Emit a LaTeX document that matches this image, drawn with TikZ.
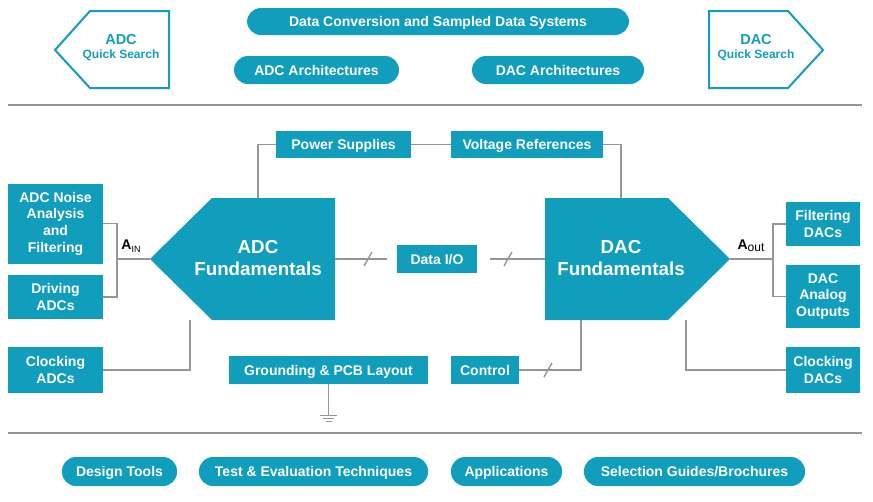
\documentclass[tikz,border=0pt]{standalone}
\usepackage{fontspec}
\setmainfont{Liberation Sans}
\usetikzlibrary{calc}
\definecolor{adiblue}{RGB}{16,158,188}
\definecolor{wiregray}{RGB}{150,150,150}
\tikzset{
  tile/.style={fill=adiblue, text=white, font=\bfseries\fontsize{14}{16.7}\selectfont, inner sep=0pt},
  box/.style={tile, text height=10pt, text depth=0pt},
  stack/.style={tile, align=center},
  pill/.style={box, rounded corners=14pt, minimum height=28pt},
  wire/.style={draw=wiregray, line width=1.4pt},
  bigbox/.style={fill=adiblue},
  bigtext/.style={text=white, font=\bfseries\fontsize{18.8}{22}\selectfont, align=center},
  search/.style={draw=adiblue, line width=2pt, fill=white},
  searchtext/.style={text=adiblue, align=center, font=\bfseries\fontsize{12}{14}\selectfont}
}
\newcommand{\busmark}[1]{\draw[wire] ($(#1)+(-4,7)$) -- ($(#1)+(4,-7)$);}
\begin{document}
\begin{tikzpicture}[x=1pt, y=-1pt]
\useasboundingbox (0,0) rectangle (873,501);

\draw[search] (55,50) -- (90,11) -- (169,11) -- (169,88) -- (90,88) -- cycle;
\node[searchtext] (adcqs) at (121,48) {{\fontsize{14.5}{14}\selectfont ADC}\\Quick Search};
\draw[search] (709,11) -- (788,11) -- (823,50) -- (788,88) -- (709,88) -- cycle;
\node[searchtext] (dacqs) at (756,48) {{\fontsize{14.5}{14}\selectfont DAC}\\Quick Search};

\node[pill, minimum width=382pt, minimum height=27pt] (dcsds) at (438,21.5) {Data Conversion and Sampled Data Systems};
\node[pill, minimum width=165pt] (adcarch) at (316.5,70) {ADC Architectures};
\node[pill, minimum width=172pt] (dacarch) at (558,70) {DAC Architectures};

\coordinate (topl) at (8,105);
\coordinate (topr) at (862,105);
\coordinate (botl) at (8,433);
\coordinate (botr) at (862,433);
\draw[wire] (topl) -- (topr);
\draw[wire] (botl) -- (botr);

\node[box, minimum width=135pt, minimum height=27pt] (power) at (343.5,144.5) {Power Supplies};
\node[box, minimum width=152pt, minimum height=27pt] (vref) at (527,144.5) {Voltage References};

\fill[bigbox] (150,259) -- (212,198) -- (335,198) -- (335,320) -- (212,320) -- cycle;
\node[bigtext] (adc) at (258,258) {ADC\\Fundamentals};
\fill[bigbox] (545,198) -- (668,198) -- (730,259) -- (668,320) -- (545,320) -- cycle;
\node[bigtext] (dac) at (621,258) {DAC\\Fundamentals};

\coordinate (adcin) at (150,259);
\coordinate (adcout) at (335,259);
\coordinate (adctop) at (258,198);
\coordinate (adcbot) at (190,320);
\coordinate (dacin) at (545,259);
\coordinate (dacout) at (730,259);
\coordinate (dactop) at (621,198);
\coordinate (dacbotl) at (581,320);
\coordinate (dacbotr) at (686,320);
\coordinate (ajoin) at (117,259);
\coordinate (djoin) at (773,259);

\node[box, minimum width=80pt, minimum height=28pt] (dataio) at (437,259) {Data I/O};

\node[stack, minimum width=95pt, minimum height=80pt] (noise) at (55.5,223.5) {ADC Noise\\Analysis\\and\\Filtering};
\node[stack, minimum width=95pt, minimum height=44pt] (driving) at (55.5,297) {Driving\\ADCs};
\node[stack, minimum width=95pt, minimum height=46pt] (clkadc) at (55.5,370) {Clocking\\ADCs};

\node[stack, minimum width=74pt, minimum height=44pt] (filtdac) at (823,224) {Filtering\\DACs};
\node[stack, minimum width=74pt, minimum height=63pt] (analog) at (823,296.5) {DAC\\Analog\\Outputs};
\node[stack, minimum width=74pt, minimum height=46pt] (clkdac) at (823,370) {Clocking\\DACs};

\node[box, minimum width=199pt, minimum height=28pt] (ground) at (328.5,370) {Grounding \& PCB Layout};
\node[box, minimum width=68pt, minimum height=28pt] (control) at (485,370) {Control};

\node[pill, minimum width=115pt, minimum height=29pt] (tools) at (119.5,471.5) {Design Tools};
\node[pill, minimum width=229pt, minimum height=29pt] (testeval) at (313.5,471.5) {Test \& Evaluation Techniques};
\node[pill, minimum width=111pt, minimum height=29pt] (apps) at (506.5,471.5) {Applications};
\node[pill, minimum width=221pt, minimum height=29pt] (guides) at (694.5,471.5) {Selection Guides/Brochures};

\draw[wire] (noise.east) -| (ajoin) |- (driving.east);
\draw[wire] (ajoin) -- (adcin);
\node (ain) at (131,246) {\fontsize{14}{14}\selectfont\textbf{A}\raisebox{-3pt}{\fontsize{9}{9}\selectfont IN}};
\draw[wire] (clkadc.east) -| (adcbot);
\draw[wire] (adctop) |- (power.west);
\draw[wire] (power.east) -- (vref.west);
\draw[wire] (vref.east) -| (dactop);
\draw[wire, shorten >=10pt] (adcout) -- (dataio.west);
\draw[wire, shorten <=13pt] (dataio.east) -- (dacin);
\coordinate (busa) at (368,259);
\coordinate (busb) at (508,259);
\busmark{busa}
\busmark{busb}
\draw[wire] (dacout) -- (djoin);
\draw[wire] (filtdac.west) -| (djoin) |- (analog.west);
\node (aout) at (751,246) {\fontsize{14}{14}\selectfont\textbf{A}\raisebox{-2pt}{\fontsize{12}{12}\selectfont out}};
\draw[wire] (dacbotr) |- (clkdac.west);
\draw[wire] (control.east) -| (dacbotl);
\coordinate (busc) at (548,370);
\busmark{busc}

\coordinate (gnd) at (ground.south |- 0,415);
\draw[wire] (ground.south) -- (gnd);
\draw[wire, line width=1pt] ($(gnd)+(-8.5,0)$) -- ($(gnd)+(8.5,0)$);
\draw[wire, line width=1pt] ($(gnd)+(-5.5,3)$) -- ($(gnd)+(5.5,3)$);
\draw[wire, line width=1pt] ($(gnd)+(-3,6)$) -- ($(gnd)+(3,6)$);
\end{tikzpicture}
\end{document}
